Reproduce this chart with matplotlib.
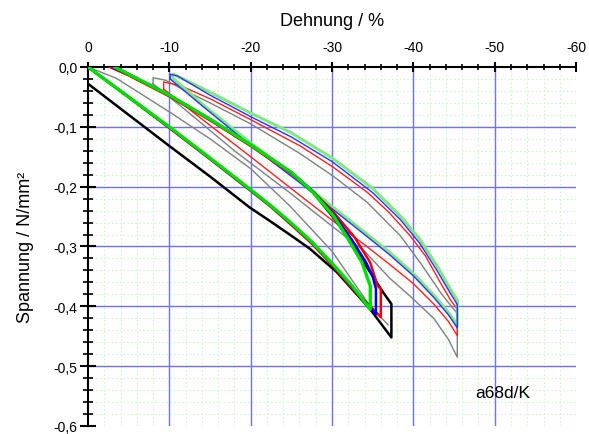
import numpy as np
import matplotlib.pyplot as plt

plt.rcParams['font.family'] = ['Liberation Sans', 'DejaVu Sans']

# ---- Zyklus 1 (dicke Linien), Dehnung in %, Spannung in N/mm² ----
# Belastungsast (unten)
schwarz_bel_x = [0, -5, -10, -15, -19.9, -22, -25, -27.3, -30.6, -34.7, -37.3]
schwarz_bel_y = [-0.028, -0.080, -0.132, -0.183, -0.235, -0.254, -0.282, -0.304, -0.343, -0.405, -0.452]
# Entlastungsast (oben)
schwarz_ent_x = [-37.3, -36.3, -33.4, -31.8, -30.2, -27.5, -25, -20, -15, -10, -5, -2.8]
schwarz_ent_y = [-0.396, -0.377, -0.316, -0.282, -0.252, -0.207, -0.177, -0.131, -0.088, -0.048, -0.013, 0.0]

gruen_bel_x = [0, -5, -10, -15, -20, -22.5, -25, -27.5, -30, -32.5, -34.7]
gruen_bel_y = [0, -0.050, -0.100, -0.152, -0.205, -0.232, -0.261, -0.292, -0.328, -0.366, -0.405]
gruen_ent_x = [-34.7, -33.7, -32.0, -30.2, -27.5, -25, -20, -15, -10, -5, -3.3]
gruen_ent_y = [-0.366, -0.327, -0.288, -0.249, -0.207, -0.176, -0.130, -0.087, -0.047, -0.012, 0.0]

blau_bel_x = [0, -5, -10, -15, -20, -22.5, -25, -27.5, -30, -32.5, -35.4]
blau_bel_y = [0, -0.050, -0.101, -0.153, -0.206, -0.233, -0.262, -0.293, -0.329, -0.368, -0.413]
blau_ent_x = [-35.4, -35.0, -34.2, -32.4, -30.3, -27.5, -25, -20, -15, -10, -5, -3.0]
blau_ent_y = [-0.371, -0.350, -0.327, -0.288, -0.248, -0.206, -0.176, -0.130, -0.087, -0.047, -0.012, 0.0]

rot_bel_x = [0, -5, -10, -15, -20, -22.5, -25, -27.5, -30, -32.5, -36.0]
rot_bel_y = [0, -0.051, -0.102, -0.154, -0.207, -0.234, -0.264, -0.295, -0.331, -0.370, -0.418]
rot_ent_x = [-36.0, -35.6, -34.7, -32.8, -30.2, -27.5, -25, -20, -15, -10, -5, -2.7]
rot_ent_y = [-0.371, -0.366, -0.327, -0.285, -0.243, -0.206, -0.178, -0.132, -0.089, -0.049, -0.014, 0.0]

grau1_x = [0, -3.5, -10, -15, -20, -24.8, -30, -34.7, -36.9]
grau1_y = [0, -0.019, -0.075, -0.120, -0.170, -0.232, -0.308, -0.400, -0.431]

# ---- Zyklus 2 (dünne Linien) ----
gruen2_bel_x = [-10.3, -14.4, -20, -26.1, -30, -34, -37.1, -40, -42.5, -44.3, -45.4]
gruen2_bel_y = [-0.017, -0.066, -0.127, -0.190, -0.233, -0.276, -0.310, -0.345, -0.381, -0.410, -0.432]
gruen2_ent_x = [-45.4, -44.5, -42.9, -40.8, -38.4, -35, -30, -25, -20, -15, -10.5]
gruen2_ent_y = [-0.390, -0.370, -0.332, -0.288, -0.249, -0.203, -0.152, -0.110, -0.077, -0.042, -0.012]

blau2_bel_x = [-10.1, -14.4, -20, -26.1, -30, -34, -37.1, -40, -42.5, -44.3, -45.4]
blau2_bel_y = [-0.020, -0.069, -0.131, -0.194, -0.237, -0.280, -0.314, -0.349, -0.385, -0.414, -0.436]
blau2_ent_x = [-45.4, -44.5, -42.9, -40.8, -38.4, -35, -30, -25, -20, -15, -11, -10.1]
blau2_ent_y = [-0.397, -0.377, -0.340, -0.295, -0.255, -0.210, -0.158, -0.117, -0.083, -0.047, -0.015, -0.012]

rot2_bel_x = [-9.3, -14, -20, -26.1, -30, -34, -37.1, -40, -42.5, -44.3, -45.4]
rot2_bel_y = [-0.037, -0.087, -0.150, -0.215, -0.256, -0.297, -0.330, -0.362, -0.396, -0.425, -0.449]
rot2_ent_x = [-45.4, -44.6, -43.3, -41.5, -39.6, -37, -34.3, -30.1, -26.1, -20, -15, -11.3, -9.3]
rot2_ent_y = [-0.405, -0.390, -0.360, -0.316, -0.282, -0.243, -0.209, -0.167, -0.132, -0.088, -0.053, -0.031, -0.025]

grau2_bel_x = [-8, -12, -18, -24.8, -30, -34, -37.1, -39.6, -42.5, -44.3, -45.4]
grau2_bel_y = [-0.028, -0.072, -0.140, -0.210, -0.266, -0.308, -0.353, -0.383, -0.420, -0.455, -0.485]
grau2_ent_x = [-45.4, -43.5, -41, -38.4, -34.3, -30.1, -26.1, -20, -15, -12, -9.5, -8]
grau2_ent_y = [-0.412, -0.380, -0.330, -0.282, -0.226, -0.182, -0.145, -0.095, -0.060, -0.040, -0.022, -0.018]

fig = plt.figure(figsize=(5.89, 4.35), dpi=100)
ax = fig.add_axes([0.1494, 0.0184, 0.8286, 0.8253])

# Raster: kleine grüne Punkte, große blaue Linien
for gx in np.arange(-2, -60.1, -2):
    ax.axvline(gx, color='#d0f5d0', lw=0.8, ls=(0, (1.5, 2)), zorder=0)
for gy in np.arange(-0.02, -0.601, -0.02):
    ax.axhline(gy, color='#d0f5d0', lw=0.8, ls=(0, (1.5, 2)), zorder=0)
for gx in [-10, -20, -30, -40, -50]:
    ax.axvline(gx, color='#7070ff', lw=1.0, zorder=1)
for gy in [-0.1, -0.2, -0.3, -0.4, -0.5]:
    ax.axhline(gy, color='#7070ff', lw=1.0, zorder=1)


def schleife(bx, by, ex, ey, **kw):
    xs = list(bx) + list(ex) + [bx[0]]
    ys = list(by) + list(ey) + [by[0]]
    ax.plot(xs, ys, **kw)


# Zyklus 2
schleife(grau2_bel_x, grau2_bel_y, grau2_ent_x, grau2_ent_y, color='#808080', lw=1.0, zorder=3)
schleife(rot2_bel_x, rot2_bel_y, rot2_ent_x, rot2_ent_y, color='#ff2020', lw=1.0, zorder=3)
schleife(gruen2_bel_x, gruen2_bel_y, gruen2_ent_x, gruen2_ent_y, color='#80e880', lw=2.2, zorder=3)
schleife(blau2_bel_x, blau2_bel_y, blau2_ent_x, blau2_ent_y, color='#3030ff', lw=1.0, zorder=4)

# Zyklus 1
ax.plot(grau1_x, grau1_y, color='#808080', lw=1.0, zorder=4)
ax.plot(schwarz_bel_x + schwarz_ent_x, schwarz_bel_y + schwarz_ent_y, color='black', lw=1.8, zorder=5)
ax.plot(rot_bel_x + rot_ent_x, rot_bel_y + rot_ent_y, color='#ee0000', lw=1.8, zorder=5)
ax.plot(blau_bel_x + blau_ent_x, blau_bel_y + blau_ent_y, color='#0000ee', lw=1.8, zorder=6)
ax.plot(gruen_bel_x + gruen_ent_x, gruen_bel_y + gruen_ent_y, color='#00dd00', lw=2.4, zorder=7)

ax.set_xlim(0, -60)
ax.set_ylim(-0.6, 0)

ax.spines['bottom'].set_visible(False)
ax.spines['right'].set_visible(False)
ax.spines['left'].set_linewidth(1.5)
ax.spines['top'].set_linewidth(1.5)

ax.xaxis.tick_top()
ax.xaxis.set_label_position('top')
ax.set_xticks(np.arange(0, -60.1, -10))
ax.set_xticks(np.arange(0, -60.1, -2), minor=True)
ax.set_xticklabels(['0', '-10', '-20', '-30', '-40', '-50', '-60'])
ax.set_yticks(np.round(np.arange(0, -0.601, -0.1), 2))
ax.set_yticks(np.arange(0, -0.601, -0.02), minor=True)
ax.set_yticklabels(['0,0', '-0,1', '-0,2', '-0,3', '-0,4', '-0,5', '-0,6'])

ax.tick_params(axis='x', which='major', direction='inout', length=7, width=1.5, labelsize=10, pad=6)
ax.tick_params(axis='x', which='minor', direction='inout', length=4, width=1.2)
ax.tick_params(axis='y', which='major', direction='inout', length=11, width=1.5, labelsize=10, pad=2)
ax.tick_params(axis='y', which='minor', direction='inout', length=6.5, width=1.2)

ax.set_xlabel('Dehnung / %', fontsize=13, labelpad=11)
ax.set_ylabel('Spannung / N/mm²', fontsize=13, labelpad=14)

ax.text(-51.0, -0.5435, 'a68d/K', fontsize=12.5, ha='center', va='center')

fig.savefig('out.png', dpi=100)
